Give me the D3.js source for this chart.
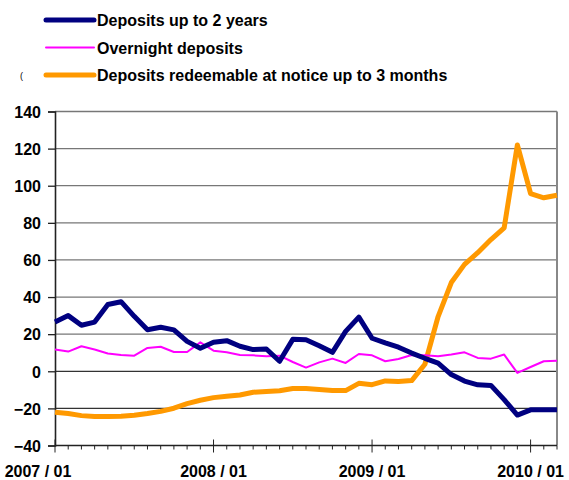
<!DOCTYPE html>
<html>
<head>
<meta charset="utf-8">
<style>
  body { margin: 0; background: #fff; }
  svg text { font-family: "Liberation Sans", Arial, sans-serif; font-weight: bold; fill: #000; }
</style>
</head>
<body>
<svg width="569" height="480"></svg>
<script src="https://d3js.org/d3.v7.min.js"></script>
<script>

    // monthly data, 2007/01 .. 2010/03
    var months = d3.range(39);
    var yearLabels = ["2007 / 01", "2008 / 01", "2009 / 01", "2010 / 01"];
    var yTicks = [-40, -20, 0, 20, 40, 60, 80, 100, 120, 140];

    var upTo2Years = [26.5, 30, 24.8, 26.5, 36, 37.5, 29.6, 22.4, 23.7, 22.3,
        16.1, 12.4, 15.6, 16.5, 13.5, 11.7, 12, 5.4, 17.2, 17,
        13.8, 10.2, 21.5, 29.2, 17.8, 15.3, 13, 9.8, 7, 4.4,
        -1.8, -5.3, -7.3, -7.6, -15.3, -23.6, -20.8, -20.8, -20.8];

    var overnight = [11.7, 10.6, 13.5, 11.7, 9.6, 8.8, 8.4, 12.6, 13.2, 10.4,
        10.4, 15.6, 11.1, 10.2, 8.8, 8.6, 8.1, 8.4, 5, 2,
        4.8, 6.8, 4.5, 9.3, 8.6, 5.4, 6.6, 8.8, 8.6, 8.1,
        9, 10.2, 7.2, 6.8, 9, -0.9, 2.3, 5.4, 5.7];

    var redeemable = [-22.1, -22.8, -23.9, -24.4, -24.4, -24.2, -23.7, -22.8, -21.6, -19.9,
        -17.4, -15.6, -14.2, -13.5, -12.8, -11.3, -10.9, -10.5, -9.3, -9.3,
        -9.8, -10.4, -10.4, -6.5, -7.2, -5.2, -5.5, -5, 3.8, 29.5,
        47.8, 57.6, 63.9, 71, 77.3, 122, 95.8, 93.5, 94.9];

    var series = [
        { name: "Deposits up to 2 years", values: upTo2Years, color: "#000080", width: 5, legendWidth: 5 },
        { name: "Overnight deposits", values: overnight, color: "#ff00ff", width: 2, legendWidth: 2 },
        { name: "Deposits redeemable at notice up to 3 months", values: redeemable, color: "#ff9900", width: 5, legendWidth: 5 }
    ];

    var svg = d3.select("svg");

    var plotLeft = 55, plotRight = 557, plotTop = 111.5, plotBottom = 445.5;

    var x = d3.scaleLinear().domain([0, 38]).range([plotLeft, plotRight]);
    var y = d3.scaleLinear().domain([-40, 140]).range([plotBottom, plotTop]);

    // gridlines
    svg.append("g")
        .selectAll("line")
        .data(yTicks.filter(function(d) { return d > -40; }))
        .enter().append("line")
        .attr("x1", plotLeft).attr("x2", plotRight)
        .attr("y1", function(d) { return y(d); })
        .attr("y2", function(d) { return y(d); })
        .attr("stroke", function(d) { return d <= 0 ? "#333" : "#777"; })
        .attr("stroke-width", 1.3);

    // right border
    svg.append("line")
        .attr("x1", plotRight).attr("x2", plotRight)
        .attr("y1", plotTop).attr("y2", plotBottom)
        .attr("stroke", "#888").attr("stroke-width", 2);

    // y axis
    var yAxis = svg.append("g").attr("transform", "translate(" + plotLeft + ",0)")
        .call(d3.axisLeft(y).tickValues(yTicks).tickSize(7).tickPadding(7));
    yAxis.select(".domain").attr("stroke", "#222").attr("stroke-width", 1.6);
    yAxis.selectAll(".tick line").attr("stroke", "#222").attr("stroke-width", 1.3);
    yAxis.selectAll("text").style("font-size", "16px").style("font-family", null)
        .attr("fill", "#000").attr("dy", "0.36em");

    // x axis
    var xg = svg.append("g");
    xg.append("line")
        .attr("x1", plotLeft).attr("x2", plotRight)
        .attr("y1", plotBottom).attr("y2", plotBottom)
        .attr("stroke", "#222").attr("stroke-width", 1.5);
    xg.selectAll(".mtick")
        .data(months)
        .enter().append("line")
        .attr("x1", function(d) { return x(d); })
        .attr("x2", function(d) { return x(d); })
        .attr("y1", function(d) { return d % 12 === 0 ? plotBottom - 6 : plotBottom; })
        .attr("y2", function(d) { return d % 12 === 0 ? plotBottom + 7 : plotBottom + 4; })
        .attr("stroke", "#222").attr("stroke-width", 1);

    xg.selectAll(".xlabel")
        .data(yearLabels)
        .enter().append("text")
        .attr("x", function(d, i) { return i === 0 ? 38 : x(i * 12); })
        .attr("y", 477)
        .attr("text-anchor", "middle")
        .style("font-size", "16px")
        .text(function(d) { return d; });

    // lines
    var line = d3.line()
        .x(function(d, i) { return x(i); })
        .y(function(d) { return y(d); });

    svg.append("g")
        .selectAll("path")
        .data([series[2], series[1], series[0]])
        .enter().append("path")
        .attr("d", function(d) { return line(d.values); })
        .attr("fill", "none")
        .attr("stroke", function(d) { return d.color; })
        .attr("stroke-width", function(d) { return d.width; })
        .attr("stroke-linejoin", "round");

    // legend
    var legend = svg.append("g")
        .selectAll("g")
        .data(series)
        .enter().append("g")
        .attr("transform", function(d, i) { return "translate(0," + [20, 47.5, 75][i] + ")"; });

    legend.append("line")
        .attr("x1", 46).attr("x2", 94)
        .attr("y1", 0).attr("y2", 0)
        .attr("stroke", function(d) { return d.color; })
        .attr("stroke-width", function(d) { return d.legendWidth; })
        .attr("stroke-linecap", "round");

    legend.append("text")
        .attr("x", 97)
        .attr("y", 6)
        .style("font-size", "16px")
        .text(function(d) { return d.name; });

    svg.append("text")
        .attr("x", 20).attr("y", 79)
        .style("font-size", "9px")
        .style("font-weight", "normal")
        .text("(");

</script>
</body>
</html>
